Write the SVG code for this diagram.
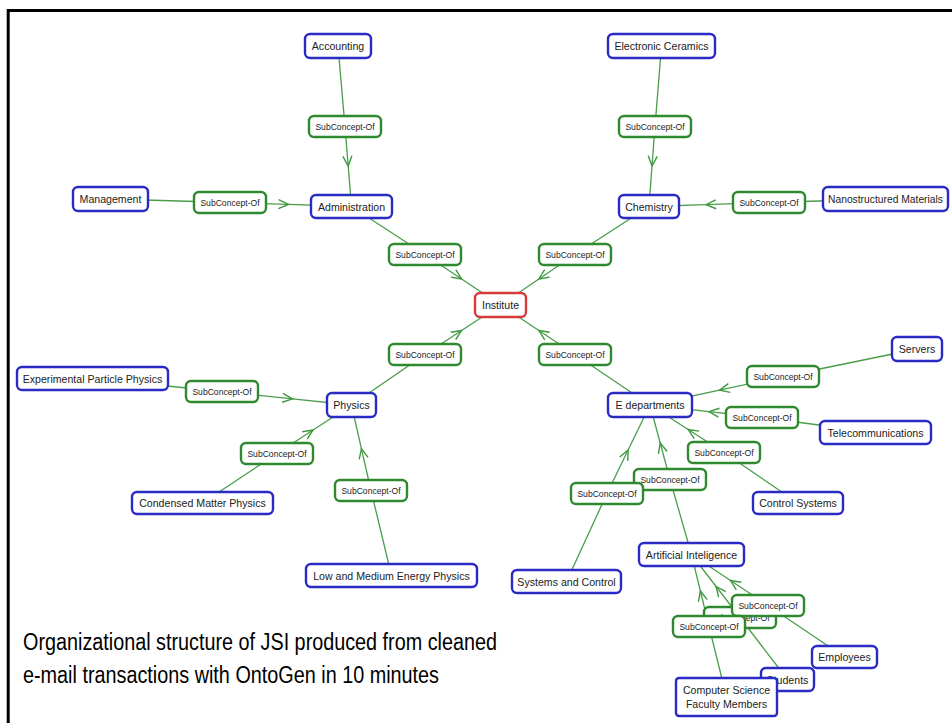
<svg xmlns="http://www.w3.org/2000/svg" width="952" height="723" viewBox="0 0 952 723">
  <style>
    .node rect { fill: #ffffff; stroke: #2a2ac4; stroke-width: 2.4; }
    .node.root rect { stroke: #d83a3a; }
    .node text { font-family: "Liberation Sans", Arial, sans-serif; font-size: 10.6px; fill: #222; text-anchor: middle; }
    .rel rect { fill: #ffffff; stroke: #2f8a2f; stroke-width: 2.4; }
    .rel text { font-family: "Liberation Sans", Arial, sans-serif; font-size: 8.6px; fill: #222; text-anchor: middle; }
    .edge { fill: none; stroke: #4a9e4a; stroke-width: 1.3; marker-mid: url(#arr); }
    .caption { font-family: "Liberation Sans", Arial, sans-serif; font-size: 23px; fill: #000; }
  </style>
  <defs>
    <marker id="arr" markerUnits="userSpaceOnUse" viewBox="0 0 14 12" markerWidth="14" markerHeight="12" refX="12" refY="6" orient="auto">
      <path d="M2,1.5 L12,6 L2,10.5" fill="none" stroke="#3f983f" stroke-width="1.4"/>
    </marker>
  </defs>

  <rect x="0" y="0" width="952" height="723" fill="#ffffff"/>
  <!-- slide frame -->
  <path d="M8.2,723 V10.5 H952" fill="none" stroke="#000" stroke-width="3"/>

  <!-- connectors: source -> relation box -> arrow -> target -->
  <g id="connectors">
    <path class="edge" d="M338,46 L345,126.5 L348.2,166 L351.5,206.5"/>
    <path class="edge" d="M110.5,199 L230,202.5 L288.5,204.4 L351.5,206.5"/>
    <path class="edge" d="M351.5,206.5 L425,254.5 L461.6,279 L500.5,305"/>
    <path class="edge" d="M661.5,46 L655,126.5 L652,166 L649,206.5"/>
    <path class="edge" d="M885.5,199 L769,202.5 L706,204.6 L649,206.5"/>
    <path class="edge" d="M649,206.5 L575,254.5 L538.9,279 L500.5,305"/>
    <path class="edge" d="M351.5,405 L425,354.5 L461.6,330.5 L500.5,305"/>
    <path class="edge" d="M650,405 L575,354.5 L538.9,330.5 L500.5,305"/>
    <path class="edge" d="M92.5,378.5 L222,391.5 L292.5,398.8 L351.5,405"/>
    <path class="edge" d="M202.5,503 L277,453.5 L313.1,430 L351.5,405"/>
    <path class="edge" d="M391.5,575.5 L371,490.5 L361.4,448.6 L351.5,405"/>
    <path class="edge" d="M917,349 L783,376.5 L719.5,390.1 L650,405"/>
    <path class="edge" d="M875.5,432.5 L762,417.5 L709,411.6 L650,405"/>
    <path class="edge" d="M798,503 L724,452.5 L688.2,429.5 L650,405"/>
    <path class="edge" d="M691.5,554.5 L670,479.5 L660.2,443 L650,405"/>
    <path class="edge" d="M566.5,581.5 L607,493.5 L628.1,450 L650,405"/>
    <path class="edge" d="M844.5,657 L768,605.5 L730.5,580.5 L691.5,554.5"/>
    <path class="edge" d="M787.5,679.5 L740,617.5 L716.1,586.5 L691.5,554.5"/>
    <path class="edge" d="M726.5,697 L709,626.5 L700.4,591 L691.5,554.5"/>
  </g>

  <!-- relation labels on the connectors -->
  <g id="relations">
    <g class="rel"><rect x="309" y="116" width="72" height="21" rx="5"/><text x="345" y="129.5">SubConcept-Of</text></g>
    <g class="rel"><rect x="194" y="192" width="72" height="21" rx="5"/><text x="230" y="205.5">SubConcept-Of</text></g>
    <g class="rel"><rect x="389" y="244" width="72" height="21" rx="5"/><text x="425" y="257.5">SubConcept-Of</text></g>
    <g class="rel"><rect x="619" y="116" width="72" height="21" rx="5"/><text x="655" y="129.5">SubConcept-Of</text></g>
    <g class="rel"><rect x="733" y="192" width="72" height="21" rx="5"/><text x="769" y="205.5">SubConcept-Of</text></g>
    <g class="rel"><rect x="539" y="244" width="72" height="21" rx="5"/><text x="575" y="257.5">SubConcept-Of</text></g>
    <g class="rel"><rect x="389" y="344" width="72" height="21" rx="5"/><text x="425" y="357.5">SubConcept-Of</text></g>
    <g class="rel"><rect x="539" y="344" width="72" height="21" rx="5"/><text x="575" y="357.5">SubConcept-Of</text></g>
    <g class="rel"><rect x="186" y="381" width="72" height="21" rx="5"/><text x="222" y="394.5">SubConcept-Of</text></g>
    <g class="rel"><rect x="241" y="443" width="72" height="21" rx="5"/><text x="277" y="456.5">SubConcept-Of</text></g>
    <g class="rel"><rect x="335" y="480" width="72" height="21" rx="5"/><text x="371" y="493.5">SubConcept-Of</text></g>
    <g class="rel"><rect x="747" y="366" width="72" height="21" rx="5"/><text x="783" y="379.5">SubConcept-Of</text></g>
    <g class="rel"><rect x="726" y="407" width="72" height="21" rx="5"/><text x="762" y="420.5">SubConcept-Of</text></g>
    <g class="rel"><rect x="688" y="442" width="72" height="21" rx="5"/><text x="724" y="455.5">SubConcept-Of</text></g>
    <g class="rel"><rect x="634" y="469" width="72" height="21" rx="5"/><text x="670" y="482.5">SubConcept-Of</text></g>
    <g class="rel"><rect x="571" y="483" width="72" height="21" rx="5"/><text x="607" y="496.5">SubConcept-Of</text></g>
    <g class="rel"><rect x="704" y="607" width="72" height="21" rx="5"/><text x="740" y="620.5">SubConcept-Of</text></g>
    <g class="rel"><rect x="732" y="595" width="72" height="21" rx="5"/><text x="768" y="608.5">SubConcept-Of</text></g>
    <g class="rel"><rect x="673" y="616" width="72" height="21" rx="5"/><text x="709" y="629.5">SubConcept-Of</text></g>
  </g>

  <!-- concept nodes -->
  <g id="accounting" class="node"><rect x="305" y="34" width="66" height="24" rx="5"/><text x="338" y="50">Accounting</text></g>
  <g id="management" class="node"><rect x="73" y="187" width="75" height="24" rx="5"/><text x="110.5" y="203">Management</text></g>
  <g id="administration" class="node"><rect x="311" y="195" width="81" height="23" rx="5"/><text x="351.5" y="210.5">Administration</text></g>
  <g id="electronic-ceramics" class="node"><rect x="608" y="34" width="107" height="24" rx="5"/><text x="661.5" y="50">Electronic Ceramics</text></g>
  <g id="chemistry" class="node"><rect x="619" y="195" width="60" height="23" rx="5"/><text x="649" y="210.5">Chemistry</text></g>
  <g id="nanostructured-materials" class="node"><rect x="823" y="187" width="125" height="24" rx="5"/><text x="885.5" y="203" textLength="115" lengthAdjust="spacingAndGlyphs">Nanostructured Materials</text></g>
  <g id="institute" class="node root"><rect x="475" y="293" width="51" height="24" rx="5"/><text x="500.5" y="309">Institute</text></g>
  <g id="physics" class="node"><rect x="327" y="393" width="49" height="24" rx="5"/><text x="351.5" y="409">Physics</text></g>
  <g id="e-departments" class="node"><rect x="608" y="393" width="84" height="24" rx="5"/><text x="650" y="409">E departments</text></g>
  <g id="experimental-particle-physics" class="node"><rect x="17" y="367" width="151" height="23" rx="5"/><text x="92.5" y="382.5">Experimental Particle Physics</text></g>
  <g id="condensed-matter-physics" class="node"><rect x="132" y="492" width="141" height="22" rx="5"/><text x="202.5" y="507">Condensed Matter Physics</text></g>
  <g id="low-medium-energy-physics" class="node"><rect x="306" y="564" width="171" height="23" rx="5"/><text x="391.5" y="579.5">Low and Medium Energy Physics</text></g>
  <g id="servers" class="node"><rect x="892" y="337" width="50" height="24" rx="5"/><text x="917" y="353">Servers</text></g>
  <g id="telecommunications" class="node"><rect x="820" y="421" width="111" height="23" rx="5"/><text x="875.5" y="436.5">Telecommunications</text></g>
  <g id="control-systems" class="node"><rect x="753" y="492" width="90" height="22" rx="5"/><text x="798" y="507">Control Systems</text></g>
  <g id="systems-and-control" class="node"><rect x="512" y="570" width="109" height="23" rx="5"/><text x="566.5" y="585.5">Systems and Control</text></g>
  <g id="artificial-inteligence" class="node"><rect x="639" y="543" width="105" height="23" rx="5"/><text x="691.5" y="558.5">Artificial Inteligence</text></g>
  <g id="employees" class="node"><rect x="812" y="646" width="65" height="22" rx="5"/><text x="844.5" y="661">Employees</text></g>
  <g id="students" class="node"><rect x="761" y="668" width="53" height="23" rx="5"/><text x="787.5" y="683.5">Students</text></g>
  <g id="cs-faculty-members" class="node"><rect x="676" y="678" width="101" height="38" rx="3"/><text x="726.5" y="694">Computer Science</text><text x="726.5" y="708">Faculty Members</text></g>

  <!-- caption -->
  <text class="caption" x="23" y="650" textLength="474" lengthAdjust="spacingAndGlyphs">Organizational structure of JSI produced from cleaned</text>
  <text class="caption" x="23" y="683" textLength="416" lengthAdjust="spacingAndGlyphs">e-mail transactions with OntoGen in 10 minutes</text>
</svg>
